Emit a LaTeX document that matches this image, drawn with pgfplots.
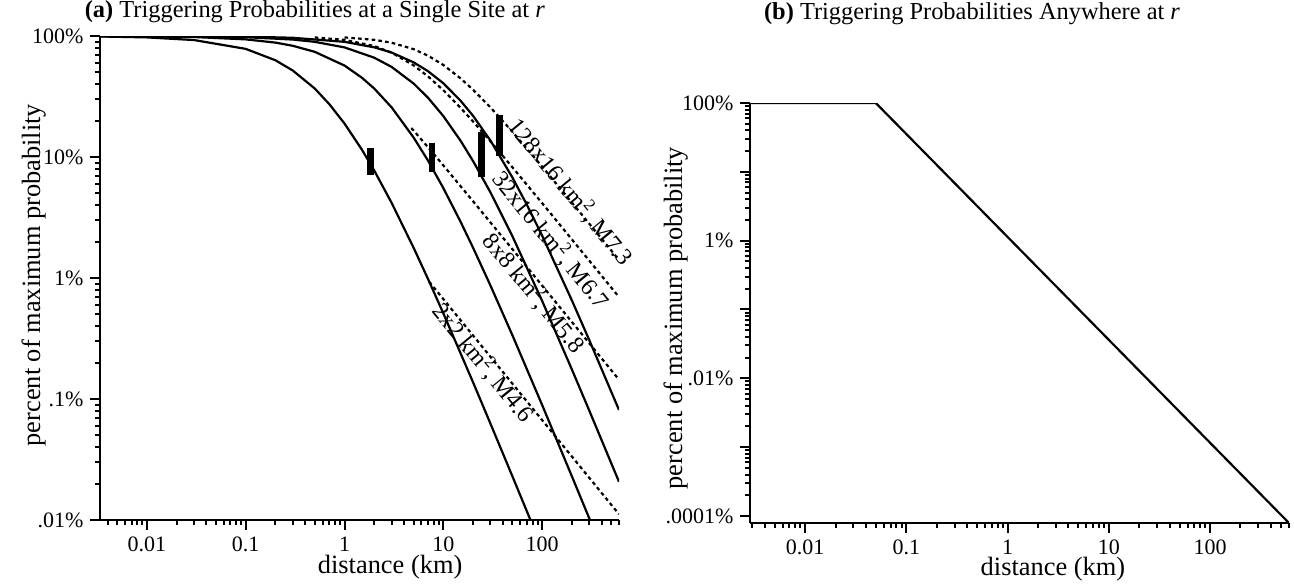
\documentclass[border=0pt]{standalone}
\usepackage{fontspec}
\setmainfont{Liberation Serif}
\usepackage{pgfplots}
\pgfplotsset{compat=1.18}
\begin{document}
\begin{tikzpicture}
\path[use as bounding box] (0,0) rectangle (647bp,-292bp);
% ---------- (a) ----------
\begin{axis}[
  scale only axis, xmode=log, ymode=log, axis lines=left, clip mode=individual,
  axis line style={-, line width=1.35bp},
  tick align=outside, major tick length=4.8bp, minor tick length=2.6bp,
  every tick/.style={black, line width=1bp},
  xtick={0.01,0.1,1,10,100}, xticklabels={0.01,0.1,1,10,100},
  minor xtick={0.004,0.005,0.006,0.007,0.008,0.009,0.02,0.03,0.04,0.05,0.06,0.07,0.08,0.09,0.2,0.3,0.4,0.5,0.6,0.7,0.8,0.9,2,3,4,5,6,7,8,9,20,30,40,50,60,70,80,90,200,300,400,500,600},
  tick label style={font=\fontsize{11bp}{13bp}\selectfont},
  label style={font=\fontsize{13.2bp}{16bp}\selectfont},
  title style={font=\fontsize{12.2bp}{15bp}\selectfont},
  at={(50bp,-260bp)}, anchor=south west, width=259.5bp, height=242bp,
  xmin=0.00335, xmax=600, ymin=0.01, ymax=100,
  ytick={0.01,0.1,1,10,100}, yticklabels={.01\%,.1\%,1\%,10\%,100\%},
  minor ytick={0.02,0.03,0.04,0.05,0.06,0.07,0.08,0.09,0.2,0.3,0.4,0.5,0.6,0.7,0.8,0.9,2,3,4,5,6,7,8,9,20,30,40,50,60,70,80,90},
  xlabel={distance (km)}, ylabel={percent of maximum probability},
  xlabel style={at={(axis description cs:0.559,-0.097)}, anchor=center},
  ylabel style={at={(axis description cs:-0.128,0.506)}, anchor=center},
  title={\textbf{(a)} Triggering Probabilities at a Single Site at \textit{r}},
  title style={at={(axis description cs:0.414,1.0145)}, anchor=base},
]
% solid curves
\addplot[black, line width=1.1bp] coordinates {(0.0033,99.15) (0.01,97.4) (0.03,92.6) (0.1,78.3) (0.2,63.0) (0.3,51.8) (0.5,36.8) (0.7,27.4) (1,18.9) (1.5,11.5) (2,7.73) (3,4.17) (5,1.78) (7,0.982) (10,0.511) (20,0.1374) (30,0.0626) (50,0.0230) (80,0.00909)};
\addplot[black, line width=1.1bp] coordinates {(0.0033,99.79) (0.01,99.35) (0.03,98.1) (0.1,93.8) (0.2,88.2) (0.3,83.0) (0.5,74.0) (1,57.0) (1.5,45.2) (2,36.8) (3,25.7) (5,14.5) (7,9.34) (10,5.54) (15,2.90) (20,1.78) (30,0.867) (50,0.337) (100,0.0893) (200,0.0230) (320,0.00909)};
\addplot[black, line width=1.1bp] coordinates {(0.0033,99.92) (0.01,99.77) (0.1,97.75) (0.3,93.5) (0.5,89.5) (1,80.5) (2,66.2) (3,55.5) (5,40.5) (7,30.9) (10,21.8) (15,13.57) (20,9.26) (30,5.10) (50,2.218) (100,0.647) (200,0.1757) (300,0.0803) (600,0.0207)};
\addplot[black, line width=1.1bp] coordinates {(0.0033,99.96) (0.01,99.89) (0.1,98.87) (0.3,96.7) (1,89.5) (2,80.6) (3,73.0) (5,60.6) (7,51.2) (10,40.7) (15,29.1) (20,21.9) (30,13.67) (50,6.78) (70,4.04) (100,2.24) (200,0.654) (300,0.307) (600,0.0812)};
% dashed curves
\addplot[black, line width=1.1bp, dash pattern=on 1.8bp off 1.6bp] coordinates {(7.2,0.9306) (20,0.335) (50,0.134) (100,0.067) (200,0.0335) (400,0.01675) (600,0.011167)};
\addplot[black, line width=1.1bp, dash pattern=on 1.8bp off 1.6bp] coordinates {(4.75,17.36) (6,13.94) (8,10.59) (10,8.527) (20,4.309) (50,1.732) (100,0.8666) (200,0.4335) (400,0.2168) (600,0.1445)};
\addplot[black, line width=1.1bp, dash pattern=on 1.8bp off 1.6bp] coordinates {(0.5,97.33) (1,92.89) (2,82.64) (3,72.86) (5,57.25) (7,46.37) (10,35.64) (15,25.43) (20,19.67) (30,13.47) (50,8.229) (100,4.157) (200,2.086) (400,1.044) (600,0.6963)};
\addplot[black, line width=1.1bp, dash pattern=on 1.8bp off 1.6bp] coordinates {(1,97.38) (2,93.00) (3,88.01) (5,77.90) (7,68.79) (10,57.64) (15,44.57) (20,35.97) (30,25.70) (50,16.18) (100,8.326) (200,4.206) (400,2.111) (600,1.408)};
% bars
\addplot[black, line width=3.4bp, line cap=butt] coordinates {(1.83,7.1) (1.83,11.86)};
\addplot[black, line width=3.4bp, line cap=butt] coordinates {(7.7,7.52) (7.7,13.05)};
\addplot[black, line width=3.4bp, line cap=butt] coordinates {(24.2,6.84) (24.2,16.1)};
\addplot[black, line width=3.4bp, line cap=butt] coordinates {(36.8,10.2) (36.8,22.2)};
% labels
\node[rotate=-50.7, font=\fontsize{12bp}{14bp}\selectfont] at (axis cs:196,5.14) {128x16 km\textsuperscript{2}, M7.3};
\node[rotate=-50.7, font=\fontsize{12bp}{14bp}\selectfont] at (axis cs:123,2.06) {32x16 km\textsuperscript{2}, M6.7};
\node[rotate=-50.7, font=\fontsize{12bp}{14bp}\selectfont] at (axis cs:83,0.75) {8x8 km\textsuperscript{2}, M5.8};
\node[rotate=-50.7, font=\fontsize{12bp}{14bp}\selectfont] at (axis cs:25.4,0.199) {2x2 km\textsuperscript{2}, M4.6};
\end{axis}
% ---------- (b) ----------
\begin{axis}[
  scale only axis, xmode=log, ymode=log, axis lines=left,
  axis line style={-, line width=1.35bp},
  tick align=outside, major tick length=4.8bp, minor tick length=2.6bp,
  every tick/.style={black, line width=1bp},
  xtick={0.01,0.1,1,10,100}, xticklabels={0.01,0.1,1,10,100},
  minor xtick={0.003,0.004,0.005,0.006,0.007,0.008,0.009,0.02,0.03,0.04,0.05,0.06,0.07,0.08,0.09,0.2,0.3,0.4,0.5,0.6,0.7,0.8,0.9,2,3,4,5,6,7,8,9,20,30,40,50,60,70,80,90,200,300,400,500,600},
  tick label style={font=\fontsize{11bp}{13bp}\selectfont},
  label style={font=\fontsize{13.2bp}{16bp}\selectfont},
  title style={font=\fontsize{12.2bp}{15bp}\selectfont},
  at={(375bp,-261.5bp)}, anchor=south west, width=269.5bp, height=210bp,
  xmin=0.00286, xmax=603, ymin=0.000079, ymax=100,
  ytick={0.0001,0.001,0.01,0.1,1,10,100}, yticklabels={.0001\%,,.01\%,,1\%,,100\%},
  minor ytick={0.0002,0.0003,0.0004,0.0005,0.0006,0.0007,0.0008,0.0009,0.002,0.003,0.004,0.005,0.006,0.007,0.008,0.009,0.02,0.03,0.04,0.05,0.06,0.07,0.08,0.09,0.2,0.3,0.4,0.5,0.6,0.7,0.8,0.9,2,3,4,5,6,7,8,9,20,30,40,50,60,70,80,90},
  xlabel={distance (km)}, ylabel={percent of maximum probability},
  xlabel style={at={(axis description cs:0.562,-0.11)}, anchor=center},
  ylabel style={at={(axis description cs:-0.138,0.488)}, anchor=center},
  title={\textbf{(b)} Triggering Probabilities Anywhere at \textit{r}},
  title style={at={(axis description cs:0.412,1.171)}, anchor=base},
]
\addplot[black, line width=1.1bp] coordinates {(0.00286,100) (0.05,100) (603,0.000079)};
\end{axis}
\end{tikzpicture}
\end{document}
